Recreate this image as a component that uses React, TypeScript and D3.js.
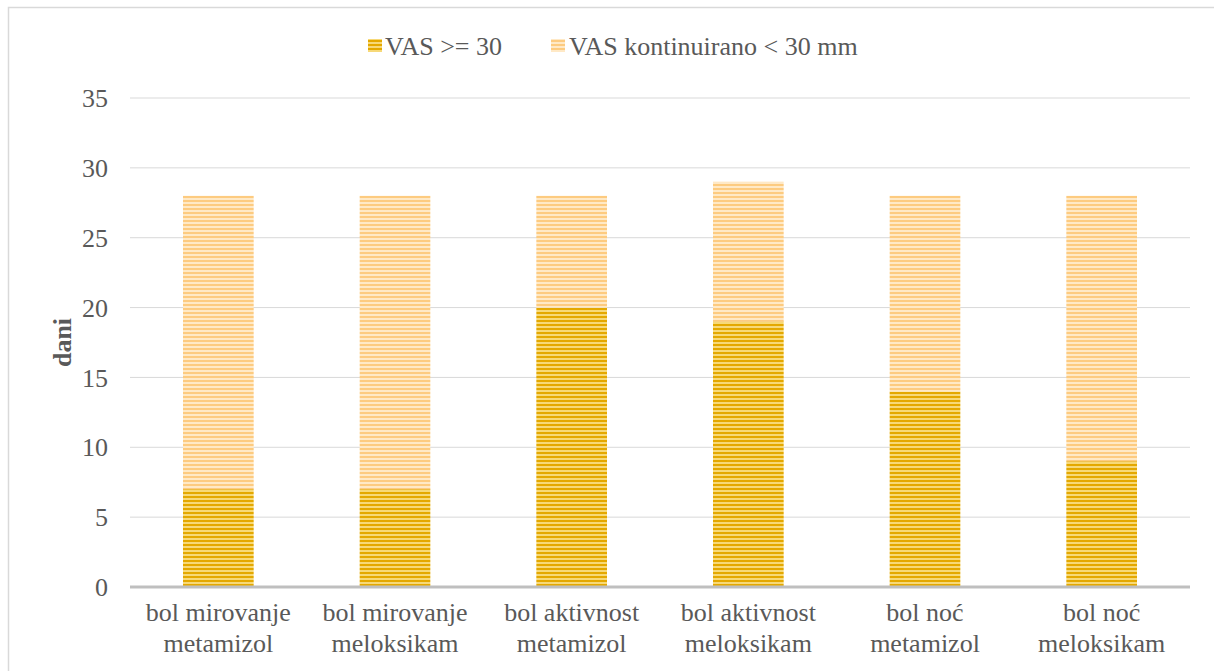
import React from "react";
import * as d3 from "d3";

const categories = [
  ["bol mirovanje", "metamizol"],
  ["bol mirovanje", "meloksikam"],
  ["bol aktivnost", "metamizol"],
  ["bol aktivnost", "meloksikam"],
  ["bol noć", "metamizol"],
  ["bol noć", "meloksikam"],
];
const vasHigh = [7, 7, 20, 19, 14, 9];
const vasLow = [21, 21, 8, 10, 14, 19];
const yTicks = [0, 5, 10, 15, 20, 25, 30, 35];
const seriesNames = ["VAS >= 30", "VAS kontinuirano < 30 mm"];

const W = 1214;
const H = 671;
const margin = { top: 98, right: 24, bottom: 84, left: 130 };
const fontStyle = { fontFamily: "Liberation Serif, DejaVu Serif, serif" };

export default function App() {
  const x = d3
    .scaleBand<number>()
    .domain(d3.range(categories.length))
    .range([margin.left, W - margin.right])
    .paddingInner(0.6)
    .paddingOuter(0.3);
  const y = d3.scaleLinear().domain([0, 35]).range([H - margin.bottom, margin.top]);

  return (
    <svg
      width={W}
      height={H}
      style={{ position: "absolute", left: 0, top: 0, background: "#fff" }}
    >
      <defs>
        <pattern id="pHigh" patternUnits="userSpaceOnUse" width={8} height={4}>
          <rect width={8} height={4} fill="#F7D978" />
          <rect width={8} height={2} fill="#E4A800" />
        </pattern>
        <pattern id="pLow" patternUnits="userSpaceOnUse" width={8} height={4}>
          <rect width={8} height={4} fill="#FFE9C6" />
          <rect width={8} height={2} fill="#FDCB80" />
        </pattern>
      </defs>
      <rect x={8.5} y={7.5} width={W} height={H} fill="none" stroke="#d9d9d9" strokeWidth={1.5} />

      {yTicks.map((t) => (
        <g key={t}>
          {t > 0 && (
            <line
              x1={margin.left}
              x2={W - margin.right}
              y1={y(t)}
              y2={y(t)}
              stroke="#d9d9d9"
              strokeWidth={1}
            />
          )}
          <text
            x={108}
            y={y(t)}
            dy="0.35em"
            textAnchor="end"
            style={fontStyle}
            fontSize={26}
            fill="#595959"
          >
            {t}
          </text>
        </g>
      ))}

      {categories.map((c, i) => (
        <g key={i}>
          <rect
            x={x(i)}
            width={x.bandwidth()}
            y={y(vasHigh[i])}
            height={y(0) - y(vasHigh[i])}
            fill="url(#pHigh)"
          />
          <rect
            x={x(i)}
            width={x.bandwidth()}
            y={y(vasHigh[i] + vasLow[i])}
            height={y(vasHigh[i]) - y(vasHigh[i] + vasLow[i])}
            fill="url(#pLow)"
          />
          {c.map((line, j) => (
            <text
              key={j}
              x={(x(i) as number) + x.bandwidth() / 2}
              y={612 + j * 31}
              dy="0.35em"
              textAnchor="middle"
              style={fontStyle}
              fontSize={26}
              fill="#595959"
            >
              {line}
            </text>
          ))}
        </g>
      ))}

      <line
        x1={margin.left}
        x2={W - margin.right}
        y1={y(0)}
        y2={y(0)}
        stroke="#bfbfbf"
        strokeWidth={3}
      />

      <text
        transform={`translate(62,${(y(0) + y(35)) / 2}) rotate(-90)`}
        textAnchor="middle"
        dy="0.35em"
        style={fontStyle}
        fontSize={26}
        fontWeight="bold"
        fill="#595959"
      >
        dani
      </text>

      <g style={fontStyle} fontSize={26} fill="#595959">
        <rect x={368} y={39} width={14} height={13} fill="url(#pHigh)" />
        <text x={385} y={46} dy="0.35em">
          {seriesNames[0]}
        </text>
        <rect x={551} y={39} width={14} height={13} fill="url(#pLow)" />
        <text x={569} y={46} dy="0.35em">
          {seriesNames[1]}
        </text>
      </g>
    </svg>
  );
}
